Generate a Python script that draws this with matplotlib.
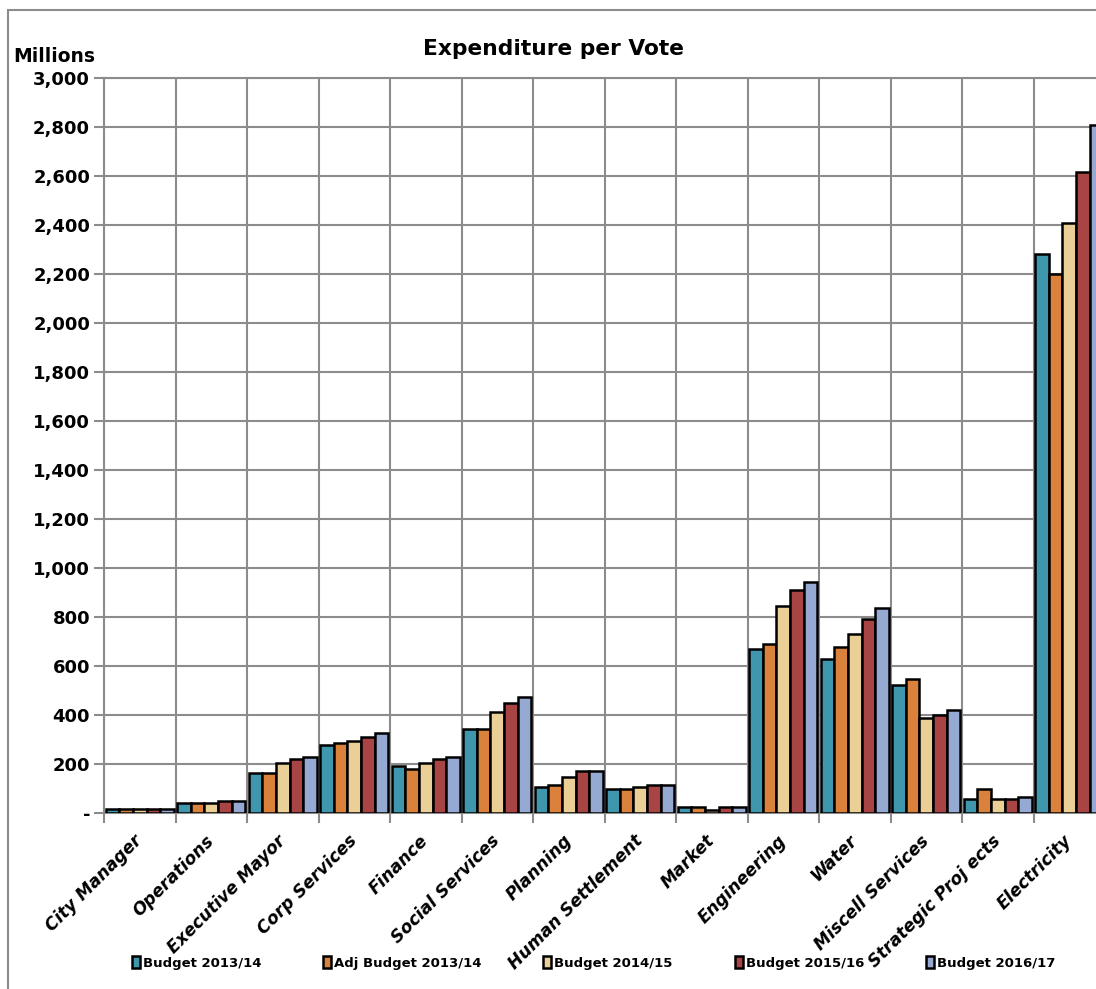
import matplotlib
matplotlib.use("Agg")
import matplotlib.pyplot as plt
import numpy as np
from matplotlib.ticker import FixedLocator, FuncFormatter
from matplotlib.patches import Rectangle

categories = ["City Manager", "Operations", "Executive Mayor", "Corp Services", "Finance",
              "Social Services", "Planning", "Human Settlement", "Market", "Engineering",
              "Water", "Miscell Services", "Strategic Proj ects", "Electricity"]
series_names = ["Budget 2013/14", "Adj Budget 2013/14", "Budget 2014/15", "Budget 2015/16", "Budget 2016/17"]
budget_2013 = [15, 41, 163, 277, 192, 342, 106, 98, 25, 669, 629, 522, 57, 2280]
adj_budget_2013 = [15, 41, 163, 286, 180, 342, 114, 98, 25, 690, 678, 547, 98, 2200]
budget_2014 = [15, 41, 204, 294, 204, 412, 147, 106, 12, 845, 731, 388, 57, 2410]
budget_2015 = [15, 49, 220, 310, 220, 449, 171, 114, 25, 910, 792, 400, 57, 2615]
budget_2016 = [15, 49, 228, 326, 228, 473, 171, 114, 25, 943, 837, 420, 65, 2810]
series = [budget_2013, adj_budget_2013, budget_2014, budget_2015, budget_2016]
colors = ["#3F97AE", "#DA823C", "#EAD096", "#A94444", "#95A9D2"]

W, H = 1096, 989
fig = plt.figure(figsize=(W / 100, H / 100), dpi=100)
plt.rcParams['font.family'] = ['DejaVu Sans']

ax = fig.add_axes([104 / W, (H - 813) / H, 1001 / W, 735 / H])

n = len(categories)
x = np.arange(n) + 0.5
bw = 0.19
for i, (vals, c, name) in enumerate(zip(series, colors, series_names)):
    ax.bar(x + (i - 2) * bw, vals, width=bw, color=c, edgecolor="black", linewidth=1.8,
           label=name, zorder=3)

ax.set_xlim(0, n)
ax.set_ylim(0, 3000)
grid_c = "#8C8C8C"
ax.xaxis.set_major_locator(FixedLocator(np.arange(0, n + 1)))
ax.xaxis.set_minor_locator(FixedLocator(x))
ax.xaxis.set_major_formatter(FuncFormatter(lambda v, p: ""))
ax.set_xticklabels(categories, minor=True, rotation=45, ha="right", va="center",
                   rotation_mode="anchor", fontsize=12.3, fontweight="bold", fontstyle="italic")
ax.tick_params(axis="x", which="minor", length=0, pad=18)
ax.tick_params(axis="x", which="major", length=7, width=1.5, color=grid_c, direction="out")
ax.set_yticks(np.arange(0, 3001, 200))
ax.yaxis.set_major_formatter(FuncFormatter(lambda v, p: "-" if v == 0 else f"{int(v):,}"))
ax.tick_params(axis="y", length=7, width=1.5, color=grid_c, labelsize=13, pad=3)
for lab in ax.get_yticklabels():
    lab.set_fontweight("bold")
ax.grid(True, which="major", color=grid_c, linewidth=1.5, zorder=0)
ax.set_axisbelow(True)
for s in ["left", "bottom", "top", "right"]:
    ax.spines[s].set_color(grid_c)
    ax.spines[s].set_linewidth(1.5)

fig.text(553 / W, 1 - 49 / H, "Expenditure per Vote", ha="center", va="center",
         fontsize=15.7, fontweight="bold")
fig.text(54 / W, 1 - 57 / H, "Millions", ha="center", va="center",
         fontsize=13.5, fontweight="bold")

# figure border
fig.patches.append(Rectangle((8 / W, -0.2), 1.5, 1.2 - 10 / H, transform=fig.transFigure,
                             fill=False, edgecolor="#8C8C8C", linewidth=1.5))

# legend entries
handles, labels = ax.get_legend_handles_labels()
leg_x = [132, 323, 543, 735, 926]
for h, l, lx in zip(handles, labels, leg_x):
    fig.legend([h], [l], loc="center left", bbox_to_anchor=(lx / W, 1 - 963 / H),
               frameon=False, borderpad=0, borderaxespad=0, handlelength=0.6,
               handleheight=1.0, handletextpad=0.2,
               prop={"weight": "bold", "size": 9.5})

fig.savefig("out.png", dpi=100)
